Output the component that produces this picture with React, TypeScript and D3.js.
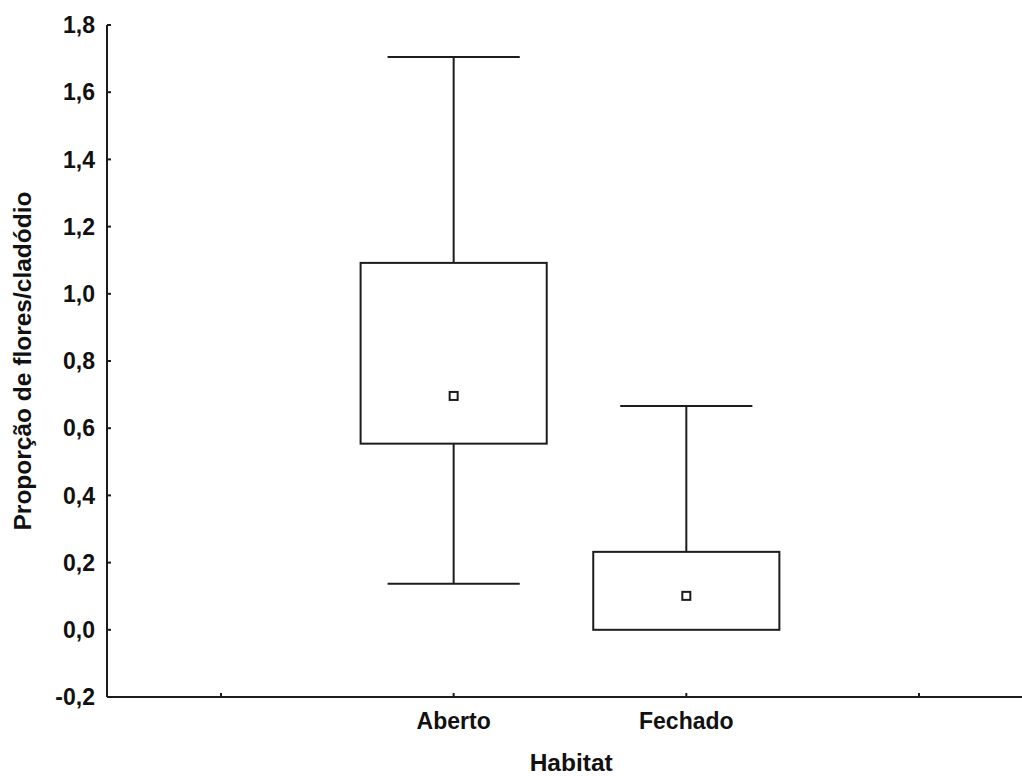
import React from "react";
import * as d3 from "d3";

const categories = ["Aberto", "Fechado"];
const medians = [0.696, 0.101];
const q1 = [0.554, 0.0];
const q3 = [1.092, 0.232];
const whiskerLow = [0.137, 0.0];
const whiskerHigh = [1.705, 0.666];
const yTicks = [-0.2, 0, 0.2, 0.4, 0.6, 0.8, 1.0, 1.2, 1.4, 1.6, 1.8];
const xTickPositions = [0, 1, 2, 3];

const W = 1022;
const H = 776;
const FONT = "'Liberation Sans', Arial, sans-serif";
const INK = "#1c1c1c";

export default function App() {
  const y = d3.scaleLinear().domain([-0.2, 1.8]).range([697, 25]);
  const x = d3.scaleLinear().domain([-0.49, 3.5]).range([107, 1035.3]);
  const boxHalf = 0.4;
  const capHalf = 0.284;
  const fmt = (v: number) => d3.format(".1f")(v).replace(".", ",").replace("−", "-");
  const x0 = x.range()[0];
  const yBottom = y(-0.2);

  return (
    <svg
      width={W}
      height={H}
      style={{ position: "absolute", left: 0, top: 0, background: "#fff" }}
    >
      {/* axes */}
      <line x1={x0} x2={W} y1={yBottom} y2={yBottom} stroke={INK} strokeWidth={2} />
      <line x1={x0} x2={x0} y1={y(1.8)} y2={yBottom} stroke={INK} strokeWidth={2} />
      {yTicks.map((t) => (
        <g key={"y" + t}>
          <line x1={x0} x2={x0 + 4} y1={y(t)} y2={y(t)} stroke={INK} strokeWidth={2} />
          <text
            x={95}
            y={y(t)}
            dy="0.36em"
            textAnchor="end"
            fontFamily={FONT}
            fontWeight="bold"
            fontSize={23}
            fill="#111"
          >
            {fmt(t)}
          </text>
        </g>
      ))}
      {xTickPositions.map((p) => (
        <line key={"x" + p} x1={x(p)} x2={x(p)} y1={yBottom} y2={yBottom - 4} stroke={INK} strokeWidth={2} />
      ))}
      {categories.map((c, i) => (
        <text
          key={"xl" + c}
          x={x(i + 1)}
          y={729}
          textAnchor="middle"
          fontFamily={FONT}
          fontWeight="bold"
          fontSize={23}
          fill="#111"
        >
          {c}
        </text>
      ))}
      <text
        x={(x0 + x.range()[1]) / 2}
        y={771}
        textAnchor="middle"
        fontFamily={FONT}
        fontWeight="bold"
        fontSize={24.5}
        fill="#111"
      >
        Habitat
      </text>
      <text
        transform={`translate(31, ${(y(1.8) + yBottom) / 2}) rotate(-90)`}
        textAnchor="middle"
        fontFamily={FONT}
        fontWeight="bold"
        fontSize={24.5}
        fill="#111"
      >
        Proporção de flores/cladódio
      </text>

      {/* boxes */}
      {categories.map((c, i) => {
        const p = i + 1;
        const cx = x(p);
        return (
          <g key={"b" + c} stroke={INK} strokeWidth={2} fill="none">
            {whiskerHigh[i] > q3[i] && (
              <>
                <line x1={cx} x2={cx} y1={y(q3[i])} y2={y(whiskerHigh[i])} />
                <line x1={x(p - capHalf)} x2={x(p + capHalf)} y1={y(whiskerHigh[i])} y2={y(whiskerHigh[i])} />
              </>
            )}
            {whiskerLow[i] < q1[i] && (
              <>
                <line x1={cx} x2={cx} y1={y(q1[i])} y2={y(whiskerLow[i])} />
                <line x1={x(p - capHalf)} x2={x(p + capHalf)} y1={y(whiskerLow[i])} y2={y(whiskerLow[i])} />
              </>
            )}
            <rect
              x={x(p - boxHalf)}
              y={y(q3[i])}
              width={x(p + boxHalf) - x(p - boxHalf)}
              height={y(q1[i]) - y(q3[i])}
              fill="#fff"
            />
            <rect x={cx - 4} y={y(medians[i]) - 4} width={8} height={8} fill="#fff" />
          </g>
        );
      })}
    </svg>
  );
}
